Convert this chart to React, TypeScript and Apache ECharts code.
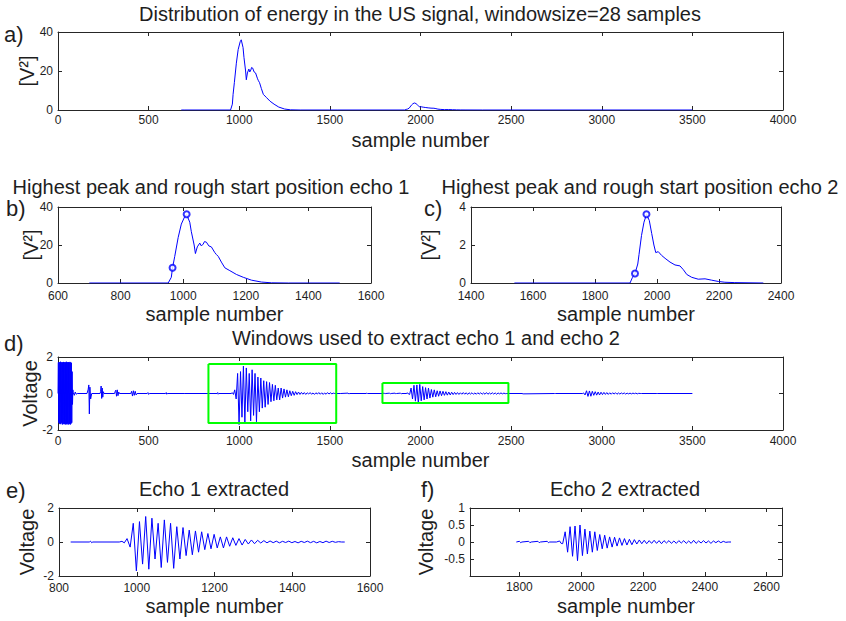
import React, { useEffect, useRef } from "react";
import * as echarts from "echarts";

const FONT = "'Liberation Sans', Arial, Helvetica, sans-serif";
const BLUE = "#0000ff";
const GREEN = "#00ff00";
const AXIS = "#262626";
const TXT = "#1e1e1e";

// ---------- energy (panels a, b, c) ----------
const energy1Samples = [700, 952, 962, 966, 973, 984, 994, 1005, 1011, 1021, 1026, 1035, 1039, 1045, 1053, 1058, 1064, 1068, 1074, 1082, 1090, 1101, 1106, 1112, 1122, 1133, 1149, 1170, 1192, 1218, 1250, 1282, 1336, 1500];
const energy1Values = [0, 0, 3, 8, 14, 24, 31, 35, 36, 32, 27, 20, 15.5, 19, 21, 19.5, 20.5, 21.8, 21.5, 19.5, 19, 16, 15, 14, 11, 8, 6.5, 4.5, 3, 1.5, 0.5, 0.1, 0, 0];
const energy2Samples = [1540, 1913, 1921, 1929, 1938, 1942, 1950, 1958, 1966, 1975, 1983, 1990, 1996, 2004, 2015, 2026, 2042, 2058, 2074, 2085, 2096, 2112, 2133, 2155, 2176, 2198, 2219, 2251, 2343];
const energy2Values = [0, 0, 0.3, 0.5, 1.0, 1.5, 2.5, 3.2, 3.6, 3.3, 2.6, 2.0, 1.6, 1.65, 1.45, 1.3, 1.1, 0.95, 0.9, 0.7, 0.45, 0.3, 0.2, 0.22, 0.15, 0.08, 0.04, 0.02, 0];
const energyFullStart = [680, 0];
const energyFullEnd = [3500, 0];
const echo1MarkSamples = [966, 1011];
const echo1MarkValues = [8, 36.2];
const echo2MarkSamples = [1929, 1966];
const echo2MarkValues = [0.5, 3.62];

// ---------- voltage signal (panels d, e, f) ----------
const burstStart = 0;
const burstStep = 2;
const burstValues = [0, 1.7, -1.6, 1.72, -1.65, 1.7, -1.68, 1.74, -1.66, 1.7, -1.6, 1.72, -1.7, 1.7, -1.65, 1.73, -1.68, 1.7, -1.66, 1.72, -1.7, 1.7, -1.67, 1.74, -1.69, 1.7, -1.65, 1.72, -1.7, 1.71, -1.68, 1.7, -1.66, 1.73, -1.7, 1.7, -1.65, 1.68, -1.6, 1.2, -0.6, 0.2];
const earlyPoints = [
  [84, 0.05], [90, -0.1], [95, 0.08], [100, -0.04], [106, 0], [160, 0], [166, 0.2], [170, 0.47], [173, -1.12], [176, 0.35], [180, -0.3], [186, 0],
  [232, 0], [235, 0.1], [238, 0.41], [241, -0.27], [244, 0.3], [247, -0.2], [250, 0.1], [254, 0],
  [312, 0], [315, 0.1], [319, 0.18], [323, -0.15], [327, 0.2], [331, -0.12], [335, 0.08], [339, 0],
  [402, 0], [406, 0.12], [411, -0.14], [416, 0.15], [421, -0.1], [426, 0.12], [431, -0.08], [436, 0],
  [492, 0], [496, 0.05], [500, -0.05], [504, 0], [594, 0], [597, 0.05], [600, -0.04], [603, 0], [700, 0]
];
const echo1PrePoints = [[830, 0], [878, 0], [881, 0.05], [884, -0.04], [887, 0], [955, 0], [962, 0.04], [968, -0.05]];
const echo1Start = 975;
const echo1Step = 8;
const echo1Values = [
  0.2, -0.3, 1.1, -1.7, 1.2, -1.3, 1.5, -1.6, 1.4, -1.0,
  1.1, -1.5, 1.3, -1.2, 1.1, -1.55, 0.9, -1.0, 0.85, -0.8,
  0.7, -0.75, 0.65, -0.6, 0.6, -0.45, 0.5, -0.4, 0.45, -0.35,
  0.3, -0.35, 0.3, -0.25, 0.25, -0.2, 0.2, -0.18, 0.15, -0.12,
  0.12, -0.1, 0.1, -0.06, 0.08, -0.05, 0.06, -0.04, 0.05, -0.05,
  0.04, -0.03, 0.05, -0.04, 0.03, -0.05, 0.04, -0.03, 0.05, -0.04,
  0.04, -0.05, 0.03, -0.04, 0.05, -0.03, 0.04, -0.02, 0.02, 0
];
const echo1End = [1535, 0];
const betweenPoints = [[1560, 0], [1600, 0.02], [1605, -0.02], [1610, 0], [1700, 0], [1704, 0.02], [1708, 0]];
const echo2PrePoints = [
  [1790, 0], [1800, 0.02], [1804, -0.02], [1808, 0], [1830, 0.02], [1834, -0.02], [1838, 0], [1860, 0.02], [1864, -0.02], [1868, 0],
  [1890, 0.02], [1894, -0.02], [1898, 0], [1920, 0], [1930, 0.03], [1935, -0.04]
];
const echo2Start = 1940;
const echo2Step = 8;
const echo2Values = [
  -0.05, 0.3, -0.3, 0.45, -0.42, 0.47, -0.55, 0.5, -0.4, 0.38,
  -0.35, 0.32, -0.3, 0.3, -0.25, 0.22, -0.2, 0.2, -0.18, 0.15,
  -0.15, 0.14, -0.12, 0.12, -0.1, 0.1, -0.09, 0.08, -0.08, 0.07,
  -0.06, 0.06, -0.05, 0.05, -0.05, 0.04, -0.04, 0.05, -0.04, 0.04,
  -0.05, 0.04, -0.03, 0.04, -0.04, 0.03, -0.04, 0.04, -0.03, 0.04,
  -0.04, 0.03, -0.04, 0.05, -0.04, 0.03, -0.03, 0.04, -0.03, 0.03,
  -0.04, 0.03, -0.02, 0.03, -0.02, 0.02, -0.01, 0
];
const echo2End = [2485, 0];
const afterPoints = [[2560, 0], [2563, 0.02], [2566, -0.02], [2569, 0], [2740, 0], [2743, 0.02], [2746, 0], [2895, 0]];
const echo3Start = 2900;
const echo3Step = 8;
const echo3Values = [
  0.03, -0.08, 0.15, -0.16, 0.14, -0.15, 0.12, -0.1, 0.1, -0.09,
  0.08, -0.08, 0.07, -0.06, 0.06, -0.05, 0.05, -0.05, 0.04, -0.04,
  0.04, -0.03, 0.04, -0.04, 0.03, -0.03, 0.03, -0.02, 0.03, -0.03,
  0.02, -0.02, 0.02, -0.02, 0.02, -0.01, 0.02, -0.02, 0.01, 0
];
const tailPoints = [[3220, 0], [3300, 0], [3303, 0.02], [3306, 0], [3500, 0]];

// extraction windows (panel d)
const windowStarts = [830, 1790];
const windowEnds = [1535, 2485];
const windowLows = [-1.62, -0.52];
const windowHighs = [1.62, 0.58];

// ---------- helpers to build series data ----------
const zip = (xs: number[], ys: number[]) => xs.map((x, i) => [x, ys[i]]);
const grid = (start: number, step: number, vals: number[]) => vals.map((v, i) => [start + i * step, v]);

const energy1 = zip(energy1Samples, energy1Values);
const energy2 = zip(energy2Samples, energy2Values);
const energyFull = [energyFullStart, ...energy1, ...energy2, energyFullEnd];
const echo1 = [...echo1PrePoints, ...grid(echo1Start, echo1Step, echo1Values), echo1End];
const echo2 = [...echo2PrePoints, ...grid(echo2Start, echo2Step, echo2Values), echo2End];
const fullSignal = [
  ...grid(burstStart, burstStep, burstValues),
  ...earlyPoints,
  ...echo1,
  ...betweenPoints,
  ...echo2,
  ...afterPoints,
  ...grid(echo3Start, echo3Step, echo3Values),
  ...tailPoints,
];
const windowRects = windowStarts.map((s, i) => [
  [s, windowHighs[i]], [windowEnds[i], windowHighs[i]], [windowEnds[i], windowLows[i]], [s, windowLows[i]], [s, windowHighs[i]],
]);

type AxCfg = { min: number; max: number; interval?: number; custom?: number[]; name: string; nameGap: number; hide?: number; margin?: number };

function xAxes(g: number, c: AxCfg) {
  const base: any = {
    gridIndex: g, type: "value", min: c.min, max: c.max,
    splitLine: { show: false },
    axisLine: { show: true, onZero: false, lineStyle: { color: AXIS, width: 1 } },
  };
  if (c.interval) base.interval = c.interval;
  const tick: any = { show: true, inside: true, length: 4, lineStyle: { color: AXIS } };
  if (c.custom) tick.customValues = c.custom;
  const label: any = { show: true, fontSize: 12, color: TXT, fontFamily: FONT, margin: c.margin ?? 4, formatter: (v: number) => String(v) };
  if (c.custom) label.customValues = c.custom;
  return [
    { ...base, position: "bottom", axisTick: tick, axisLabel: label, name: c.name, nameLocation: "middle", nameGap: c.nameGap,
      nameMoveOverlap: false, nameTextStyle: { fontSize: 20, color: TXT, fontFamily: FONT } },
    { ...base, position: "top", axisTick: tick, axisLabel: { show: false } },
  ];
}

function yAxes(g: number, c: AxCfg) {
  const base: any = {
    gridIndex: g, type: "value", min: c.min, max: c.max, interval: c.interval,
    splitLine: { show: false },
    axisLine: { show: true, onZero: false, lineStyle: { color: AXIS, width: 1 } },
    axisTick: { show: true, inside: true, length: 4, lineStyle: { color: AXIS } },
  };
  return [
    { ...base, position: "left",
      axisLabel: { show: true, fontSize: 12, color: TXT, fontFamily: FONT, margin: 5,
        formatter: (v: number) => (c.hide !== undefined && v === c.hide ? "" : String(v)) },
      name: c.name, nameLocation: "middle", nameGap: c.nameGap, nameRotate: 90, nameMoveOverlap: false,
      nameTextStyle: { fontSize: 20, color: TXT, fontFamily: FONT } },
    { ...base, position: "right", axisLabel: { show: false } },
  ];
}

const lineSeries = (g: number, data: number[][], color = BLUE, width = 1) => ({
  type: "line", xAxisIndex: 2 * g, yAxisIndex: 2 * g, data, showSymbol: false, symbol: "none",
  lineStyle: { color, width }, itemStyle: { color }, silent: true, z: 3,
});

const markSeries = (g: number, xs: number[], ys: number[]) => ({
  type: "scatter", xAxisIndex: 2 * g, yAxisIndex: 2 * g, data: zip(xs, ys), symbol: "emptyCircle", symbolSize: 6,
  itemStyle: { color: BLUE, borderColor: BLUE, borderWidth: 1 }, silent: true, z: 4,
});

const texts = [
  { t: "Distribution of energy in the US signal, windowsize=28 samples", x: 420, y: 14, s: 20 },
  { t: "Highest peak and rough start position echo 1", x: 211, y: 187, s: 20 },
  { t: "Highest peak and rough start position echo 2", x: 640, y: 187, s: 20 },
  { t: "Windows used to extract echo 1 and echo 2", x: 426, y: 338, s: 20 },
  { t: "Echo 1 extracted", x: 214, y: 489, s: 20 },
  { t: "Echo 2 extracted", x: 625, y: 489, s: 20 },
];
const letters = [
  { t: "a)", x: 4, y: 34 },
  { t: "b)", x: 6, y: 208 },
  { t: "c)", x: 424, y: 208 },
  { t: "d)", x: 4, y: 343 },
  { t: "e)", x: 6, y: 490 },
  { t: "f)", x: 421, y: 489 },
];

export default function App() {
  const ref = useRef<HTMLDivElement>(null);
  useEffect(() => {
    if (!ref.current) return;
    const chart = echarts.init(ref.current, undefined, { renderer: "svg" });
    const grids = [
      { left: 58, top: 32, width: 725, height: 78 },
      { left: 58, top: 207, width: 313, height: 76 },
      { left: 471, top: 207, width: 310, height: 76 },
      { left: 58, top: 357, width: 725, height: 73 },
      { left: 59, top: 508, width: 311, height: 68 },
      { left: 470, top: 508, width: 312, height: 68 },
    ];
    const xs = [
      ...xAxes(0, { min: 0, max: 4000, interval: 500, name: "sample number", nameGap: 20 }),
      ...xAxes(1, { min: 600, max: 1600, interval: 200, name: "sample number", nameGap: 21, margin: 7 }),
      ...xAxes(2, { min: 1400, max: 2400, interval: 200, name: "sample number", nameGap: 21, margin: 7 }),
      ...xAxes(3, { min: 0, max: 4000, interval: 500, name: "sample number", nameGap: 20, margin: 5 }),
      ...xAxes(4, { min: 800, max: 1600, interval: 200, name: "sample number", nameGap: 20, margin: 6 }),
      ...xAxes(5, { min: 1640, max: 2650, custom: [1800, 2000, 2200, 2400, 2600], name: "sample number", nameGap: 20, margin: 5 }),
    ];
    const ys = [
      ...yAxes(0, { min: 0, max: 40, interval: 20, name: "[V²]", nameGap: 21 }),
      ...yAxes(1, { min: 0, max: 40, interval: 20, name: "[V²]", nameGap: 17 }),
      ...yAxes(2, { min: 0, max: 4, interval: 2, name: "[V²]", nameGap: 32 }),
      ...yAxes(3, { min: -2, max: 2, interval: 2, name: "Voltage", nameGap: 18 }),
      ...yAxes(4, { min: -2, max: 2, interval: 2, name: "Voltage", nameGap: 22 }),
      ...yAxes(5, { min: -1, max: 1, interval: 0.5, name: "Voltage", nameGap: 34, hide: -1 }),
    ];
    const series: any[] = [
      lineSeries(0, energyFull),
      lineSeries(1, energy1),
      markSeries(1, echo1MarkSamples, echo1MarkValues),
      lineSeries(2, energy2),
      markSeries(2, echo2MarkSamples, echo2MarkValues),
      lineSeries(3, fullSignal),
      ...windowRects.map((r) => ({ ...lineSeries(3, r, GREEN, 2), z: 5 })),
      lineSeries(4, echo1),
      lineSeries(5, echo2),
    ];
    const graphic = [
      ...texts.map((e) => ({
        type: "text", silent: true,
        style: { text: e.t, x: e.x, y: e.y, fill: TXT, fontSize: e.s, fontFamily: FONT,
          align: "center", verticalAlign: "middle", textAlign: "center", textVerticalAlign: "middle" },
      })),
      ...letters.map((e) => ({
        type: "text", silent: true,
        style: { text: e.t, x: e.x, y: e.y, fill: TXT, fontSize: 22, fontFamily: FONT,
          align: "left", verticalAlign: "middle", textAlign: "left", textVerticalAlign: "middle" },
      })),
    ];
    chart.setOption({
      animation: false,
      backgroundColor: "#ffffff",
      textStyle: { fontFamily: FONT },
      grid: grids,
      xAxis: xs,
      yAxis: ys,
      series,
      graphic,
    });
    return () => chart.dispose();
  }, []);
  return (
    <div
      ref={ref}
      style={{ position: "absolute", left: 0, top: 0, width: 846, height: 621, background: "#fff" }}
    />
  );
}
